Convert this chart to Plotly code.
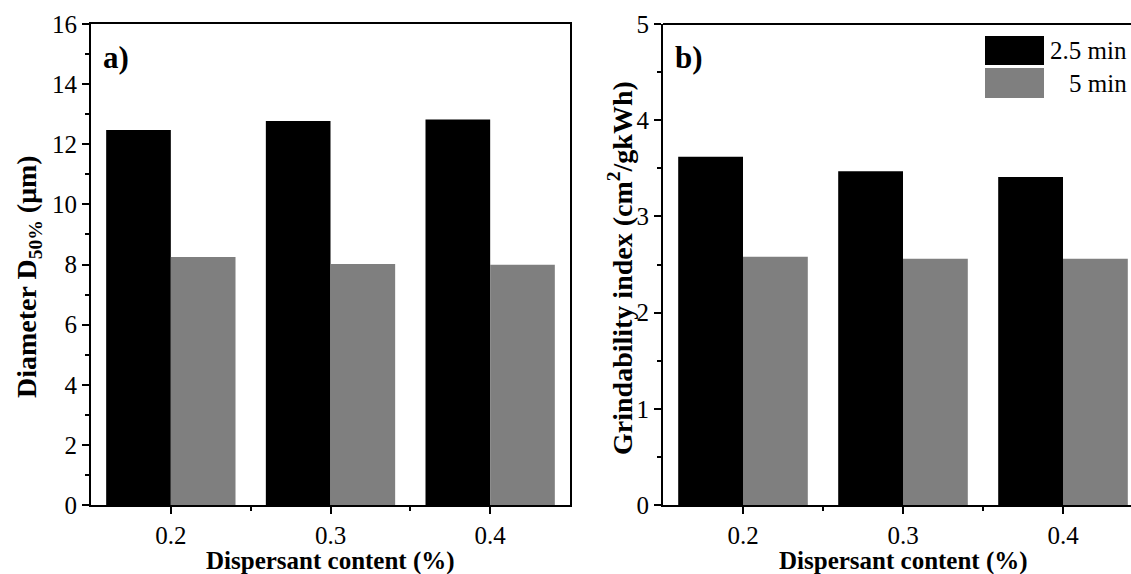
import plotly.graph_objects as go

content = [0.2, 0.3, 0.4]
d50_25 = [12.47, 12.77, 12.82]
d50_5 = [8.25, 8.02, 7.99]
gi_25 = [3.62, 3.47, 3.41]
gi_5 = [2.58, 2.56, 2.56]
series_names = ["2.5 min", "5 min"]
colors = ["#000000", "#7f7f7f"]

W, H = 1131, 574
FONT = "Times New Roman, Liberation Serif, serif"

fig = go.Figure()
for vals, name, c in [(d50_25, series_names[0], colors[0]), (d50_5, series_names[1], colors[1])]:
    fig.add_trace(go.Bar(x=content, y=vals, name=name, marker=dict(color=c, line=dict(width=0)),
                         xaxis="x", yaxis="y", showlegend=False))
for vals, name, c in [(gi_25, series_names[0], colors[0]), (gi_5, series_names[1], colors[1])]:
    fig.add_trace(go.Bar(x=content, y=vals, name=name, marker=dict(color=c, line=dict(width=0)),
                         xaxis="x2", yaxis="y2", showlegend=False))

ydom = [(H - 505) / H, (H - 24) / H]
axis_common = dict(showline=True, linecolor="black", linewidth=2, ticks="outside",
                   ticklen=7, tickwidth=2, tickcolor="black", showgrid=False, zeroline=False,
                   tickfont=dict(family=FONT, size=25, color="black"), automargin=False)
minor_common = dict(ticklen=4, tickwidth=2, tickcolor="black", ticks="outside")

fig.update_layout(
    width=W, height=H, template="none",
    font=dict(family=FONT, color="black"),
    paper_bgcolor="white", plot_bgcolor="white",
    margin=dict(l=0, r=0, t=0, b=0),
    barmode="group", bargap=0.19, bargroupgap=0,
    xaxis=dict(domain=[91 / W, 570 / W], range=[0.15, 0.45], tickvals=content,
               ticktext=[f"{v:.1f}" for v in content], mirror=True,
               minor=dict(tickvals=[0.25, 0.35], **minor_common),
               anchor="y", **axis_common),
    yaxis=dict(domain=ydom, range=[0, 16], dtick=2, tick0=0, mirror=True,
               minor=dict(dtick=1, **minor_common),
               anchor="x", **axis_common),
    xaxis2=dict(domain=[663 / W, 1.0], range=[0.15, 0.15 + (1131 - 663) / 1600], tickvals=content,
                ticktext=[f"{v:.1f}" for v in content], mirror=False,
                minor=dict(tickvals=[0.25, 0.35], **minor_common),
                anchor="y2", **axis_common),
    yaxis2=dict(domain=ydom, range=[0, 5], dtick=1, tick0=0, mirror=False,
                minor=dict(dtick=0.5, **minor_common),
                anchor="x2", **axis_common),
    showlegend=False,
)

# top border of panel b (its right border lies outside the visible area)
fig.add_shape(type="line", xref="paper", yref="paper", x0=663 / W, x1=1.0, y0=ydom[1], y1=ydom[1],
              line=dict(color="black", width=2))

xt_font = dict(family=FONT, size=25, color="black")
yt_font = dict(family=FONT, size=28, color="black")
ann = [
    dict(text="<b>Dispersant content (%)</b>", x=0.3, xref="x", y=(H - 561) / H, yref="paper",
         showarrow=False, font=xt_font, xanchor="center", yanchor="middle"),
    dict(text="<b>Dispersant content (%)</b>", x=0.3, xref="x2", y=(H - 561) / H, yref="paper",
         showarrow=False, font=xt_font, xanchor="center", yanchor="middle"),
    dict(text="<b>Diameter D<sub>50%</sub> (μm)</b>", x=28 / W, xref="paper", y=(H - 277) / H, yref="paper",
         showarrow=False, font=yt_font, textangle=-90, xanchor="center", yanchor="middle"),
    dict(text="<b>Grindability index (cm<sup>2</sup>/gkWh)</b>", x=620 / W, xref="paper", y=(H - 268) / H,
         yref="paper", showarrow=False, font=yt_font, textangle=-90, xanchor="center", yanchor="middle"),
    dict(text="<b>a)</b>", x=101 / W, xref="paper", y=(H - 58) / H, yref="paper", showarrow=False,
         font=dict(family=FONT, size=31, color="black"), xanchor="left", yanchor="middle"),
    dict(text="<b>b)</b>", x=673 / W, xref="paper", y=(H - 58) / H, yref="paper", showarrow=False,
         font=dict(family=FONT, size=31, color="black"), xanchor="left", yanchor="middle"),
]
# legend drawn as large swatches + labels
leg_y = [(36, 65), (68, 98)]
for (y0, y1), name, c in zip(leg_y, series_names, colors):
    fig.add_shape(type="rect", xref="paper", yref="paper", x0=985 / W, x1=1044 / W,
                  y0=(H - y1) / H, y1=(H - y0) / H, fillcolor=c, line=dict(width=0))
    ann.append(dict(text=name, x=1129 / W, xref="paper", y=(H - (y0 + y1) / 2) / H, yref="paper",
                    showarrow=False, font=dict(family=FONT, size=25, color="black"),
                    xanchor="right", yanchor="middle"))
fig.update_layout(annotations=ann)

fig.write_html("out.html", config={"displayModeBar": False},
               post_script="document.body.style.margin='0';document.body.style.overflow='hidden';")
